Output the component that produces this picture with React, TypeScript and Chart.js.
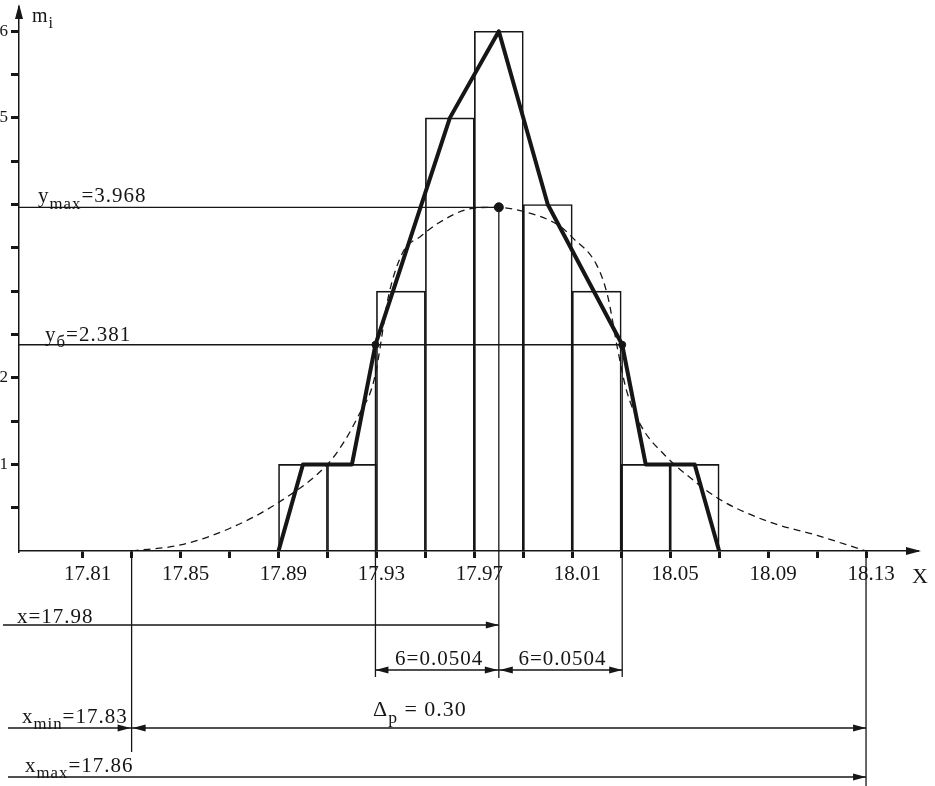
import React, { useEffect, useRef } from 'react';
import { Chart, registerables } from 'chart.js';

Chart.register(...registerables);

const FONT = "'Liberation Serif', 'DejaVu Serif', serif";
const INK = '#161616';

// ---- axes ----
const X_AXIS_MIN = 17.784;
const X_AXIS_MAX = 18.15;
const Y_AXIS_MIN = 0;
const Y_AXIS_MAX = 6.28;
const xTickValues = [17.81, 17.83, 17.85, 17.87, 17.89, 17.91, 17.93, 17.95, 17.97, 17.99, 18.01, 18.03, 18.05, 18.07, 18.09, 18.11, 18.13];
const xTickLabels = ['17.81', '', '17.85', '', '17.89', '', '17.93', '', '17.97', '', '18.01', '', '18.05', '', '18.09', '', '18.13'];
const yTickValues = [0.5, 1, 1.5, 2, 2.5, 3, 3.5, 4, 4.5, 5, 5.5, 6];
const yTickLabels = ['', '1', '', '2', '', '', '', '', '', '5', '', '6'];

// ---- histogram (frequencies m_i) ----
const binLeft = [17.89, 17.91, 17.93, 17.95, 17.97, 17.99, 18.01, 18.03, 18.05];
const binWidth = 0.02;
const freq = [1, 1, 3, 5, 6, 4, 3, 1, 1];

// ---- frequency polygon ----
const polygonX = [17.89, 17.9, 17.92, 17.9296, 17.96, 17.98, 18.0, 18.0304, 18.04, 18.06, 18.07];
const polygonY = [0, 1, 1, 2.381, 5, 6, 4, 2.381, 1, 1, 0];

// ---- dashed theoretical curve ----
const curveX = [17.83, 17.85, 17.87, 17.89, 17.91, 17.917, 17.923, 17.928, 17.93, 17.935, 17.941, 17.948, 17.955, 17.968, 17.978, 17.99, 18.005, 18.01, 18.02, 18.0245, 18.0286, 18.032, 18.038, 18.048, 18.058, 18.07, 18.09, 18.11, 18.13];
const curveY = [0, 0.07, 0.26, 0.56, 1.0, 1.27, 1.58, 1.87, 2.1, 2.95, 3.46, 3.63, 3.78, 3.95, 3.968, 3.92, 3.75, 3.62, 3.3, 2.94, 2.32, 1.87, 1.45, 1.1, 0.85, 0.6, 0.34, 0.18, 0];

// ---- statistics / annotations ----
const xBar = 17.98;
const sigma = 0.0504;
const yMax = 3.968;
const ySigma = 2.381;
const xMinPos = 17.83;
const xMaxPos = 18.13;

const yMaxLabel = [{ t: 'y' }, { t: 'max', sub: true }, { t: '=3.968' }];
const ySigmaLabel = [{ t: 'y' }, { t: 'б', sub: true }, { t: '=2.381' }];
const xBarLabel = [{ t: 'x=17.98' }];
const sigmaLabel = '6=0.0504';
const deltaLabel = [{ t: 'Δ' }, { t: 'p', sub: true }, { t: ' = 0.30' }];
const xMinLabel = [{ t: 'x' }, { t: 'min', sub: true }, { t: '=17.83' }];
const xMaxLabel = [{ t: 'x' }, { t: 'max', sub: true }, { t: '=17.86' }];
const yAxisTitle = [{ t: 'm' }, { t: 'i', sub: true }];
const xAxisTitle = 'X';

type Part = { t: string; sub?: boolean };

function rich(ctx: CanvasRenderingContext2D, parts: Part[], x: number, y: number, size: number) {
  let cx = x;
  for (const p of parts) {
    const s = p.sub ? size * 0.8 : size;
    ctx.font = `${s}px ${FONT}`;
    ctx.fillText(p.t, cx, p.sub ? y + size * 0.3 : y);
    cx += ctx.measureText(p.t).width;
  }
  return cx - x;
}

function seg(ctx: CanvasRenderingContext2D, x1: number, y1: number, x2: number, y2: number, w = 1.3) {
  ctx.lineWidth = w;
  ctx.beginPath();
  ctx.moveTo(x1, y1);
  ctx.lineTo(x2, y2);
  ctx.stroke();
}

function arrow(ctx: CanvasRenderingContext2D, x: number, y: number, dir: 'l' | 'r' | 'u', len = 13, hw = 3.5) {
  ctx.beginPath();
  if (dir === 'r') { ctx.moveTo(x, y); ctx.lineTo(x - len, y - hw); ctx.lineTo(x - len, y + hw); }
  if (dir === 'l') { ctx.moveTo(x, y); ctx.lineTo(x + len, y - hw); ctx.lineTo(x + len, y + hw); }
  if (dir === 'u') { ctx.moveTo(x, y); ctx.lineTo(x - hw, y + len); ctx.lineTo(x + hw, y + len); }
  ctx.closePath();
  ctx.fill();
}

const annotations = {
  id: 'annotations',
  afterDraw(chart: any) {
    const { ctx, chartArea: a, scales } = chart;
    const X = (v: number) => scales.x.getPixelForValue(v);
    const Y = (v: number) => scales.y.getPixelForValue(v);
    const b = a.bottom;
    const H = chart.height;
    const xb = X(xBar), xl = X(xBar - sigma), xr = X(xBar + sigma);
    const xmn = X(xMinPos), xmx = X(xMaxPos);

    ctx.save();
    ctx.strokeStyle = INK;
    ctx.fillStyle = INK;
    ctx.textBaseline = 'alphabetic';
    ctx.textAlign = 'left';
    (ctx as any).letterSpacing = '1px';

    // axis arrows
    seg(ctx, a.right, b, a.right + 4, b, 1.5);
    arrow(ctx, a.right + 6, b, 'r', 15, 4);
    arrow(ctx, a.left, a.top - 3, 'u', 15, 4);
    rich(ctx, yAxisTitle, a.left + 13, a.top + 15, 20);
    ctx.font = `22px ${FONT}`;
    ctx.fillText(xAxisTitle, a.right - 3, b + 32);

    // reference lines inside the plot
    seg(ctx, a.left, Y(yMax), xb, Y(yMax));
    seg(ctx, a.left, Y(ySigma), xr, Y(ySigma));
    rich(ctx, yMaxLabel, a.left + 19, Y(yMax) - 5, 21);
    rich(ctx, ySigmaLabel, a.left + 26, Y(ySigma) - 4, 21);

    // vertical dimension lines
    const rowBar = b + 74, rowSig = b + 119, rowDp = b + 177, rowMax = b + 226;
    seg(ctx, xb, Y(yMax), xb, rowSig + 8);
    seg(ctx, xl, Y(ySigma), xl, rowSig + 7);
    seg(ctx, xr, Y(ySigma), xr, rowSig + 7);
    seg(ctx, xmn, b, xmn, b + 201);
    seg(ctx, xmx, b, xmx, H);

    // x-bar row
    seg(ctx, 3, rowBar, xb, rowBar);
    arrow(ctx, xb, rowBar, 'r');
    rich(ctx, xBarLabel, 17, rowBar - 2, 21);

    // sigma row
    seg(ctx, xl, rowSig, xr, rowSig);
    arrow(ctx, xl, rowSig, 'l');
    arrow(ctx, xb - 1, rowSig, 'r');
    arrow(ctx, xb + 1, rowSig, 'l');
    arrow(ctx, xr, rowSig, 'r');
    ctx.font = `21px ${FONT}`;
    ctx.textAlign = 'center';
    ctx.fillText(sigmaLabel, (xl + xb) / 2 + 2, rowSig - 5);
    ctx.fillText(sigmaLabel, (xb + xr) / 2 + 2, rowSig - 5);
    ctx.textAlign = 'left';

    // x_min / delta row
    seg(ctx, 8, rowDp, xmx, rowDp);
    arrow(ctx, xmn - 1, rowDp, 'r');
    arrow(ctx, xmn + 1, rowDp, 'l');
    arrow(ctx, xmx, rowDp, 'r');
    rich(ctx, xMinLabel, 22, rowDp - 5, 21);
    rich(ctx, deltaLabel, a.left + 354, rowDp - 12, 22);

    // x_max row
    seg(ctx, 8, rowMax, xmx, rowMax);
    arrow(ctx, xmx, rowMax, 'r');
    rich(ctx, xMaxLabel, 25, rowMax - 5, 21);

    (ctx as any).letterSpacing = '0px';
    ctx.restore();
  },
};

export default function App() {
  const ref = useRef<HTMLCanvasElement>(null);

  useEffect(() => {
    const histData = binLeft.map((l, i) => ({ x: l + binWidth / 2, y: freq[i] }));
    const polyData = polygonX.map((x, i) => ({ x, y: polygonY[i] }));
    const curveData = curveX.map((x, i) => ({ x, y: curveY[i] }));
    const dotData = [
      { x: xBar - sigma, y: ySigma },
      { x: xBar, y: yMax },
      { x: xBar + sigma, y: ySigma },
    ];

    const chart = new Chart(ref.current as HTMLCanvasElement, {
      type: 'bar',
      data: {
        datasets: [
          {
            type: 'line',
            data: polyData,
            borderColor: INK,
            borderWidth: 4,
            pointRadius: 0,
            tension: 0,
            borderJoinStyle: 'round',
            borderCapStyle: 'round',
            order: 0,
          } as any,
          {
            type: 'line',
            data: dotData,
            showLine: false,
            pointRadius: [3.5, 4.5, 3.5],
            pointBackgroundColor: INK,
            pointBorderColor: INK,
            order: 0,
          } as any,
          {
            type: 'line',
            data: curveData,
            borderColor: INK,
            borderWidth: 1.3,
            borderDash: [7, 5],
            pointRadius: 0,
            cubicInterpolationMode: 'monotone',
            order: 1,
          } as any,
          {
            type: 'bar',
            data: histData,
            backgroundColor: 'rgba(0,0,0,0)',
            borderColor: INK,
            borderWidth: 1,
            barPercentage: 1,
            categoryPercentage: 1,
            grouped: false,
            order: 2,
          } as any,
        ],
      },
      options: {
        responsive: false,
        devicePixelRatio: 1,
        animation: false,
        events: [],
        layout: { padding: { left: 0, right: 20, top: 7, bottom: 195 } },
        plugins: { legend: { display: false }, tooltip: { enabled: false } },
        scales: {
          x: {
            type: 'linear',
            offset: false,
            min: X_AXIS_MIN,
            max: X_AXIS_MAX,
            afterBuildTicks: (s: any) => { s.ticks = xTickValues.map((v) => ({ value: v })); },
            afterFit: (s: any) => { s.height = 40; s.paddingLeft = 0; s.paddingRight = 0; },
            ticks: {
              autoSkip: false,
              maxRotation: 0,
              minRotation: 0,
              labelOffset: 5,
              padding: 4,
              color: INK,
              font: { family: FONT, size: 21 },
              callback: (_v: any, i: number) => xTickLabels[i],
            },
            grid: { offset: false, drawOnChartArea: false, drawTicks: true, tickLength: 7, tickWidth: 3, lineWidth: 3, tickColor: INK, color: INK },
            border: { display: true, color: INK, width: 1.5 },
          },
          y: {
            type: 'linear',
            min: Y_AXIS_MIN,
            max: Y_AXIS_MAX,
            afterBuildTicks: (s: any) => { s.ticks = yTickValues.map((v) => ({ value: v })); },
            afterFit: (s: any) => { s.width = 19; s.paddingTop = 0; s.paddingBottom = 0; },
            ticks: {
              padding: 3,
              color: INK,
              font: { family: FONT, size: 17 },
              callback: (_v: any, i: number) => yTickLabels[i],
            },
            grid: { drawOnChartArea: false, drawTicks: true, tickLength: 8, tickWidth: 3, lineWidth: 3, tickColor: INK, color: INK },
            border: { display: true, color: INK, width: 1.5 },
          },
        },
      } as any,
      plugins: [annotations],
    });
    return () => chart.destroy();
  }, []);

  return (
    <div style={{ position: 'absolute', left: 0, top: 0, width: 935, height: 786, background: '#fff' }}>
      <canvas ref={ref} width={935} height={786} style={{ display: 'block', width: 935, height: 786 }} />
    </div>
  );
}
